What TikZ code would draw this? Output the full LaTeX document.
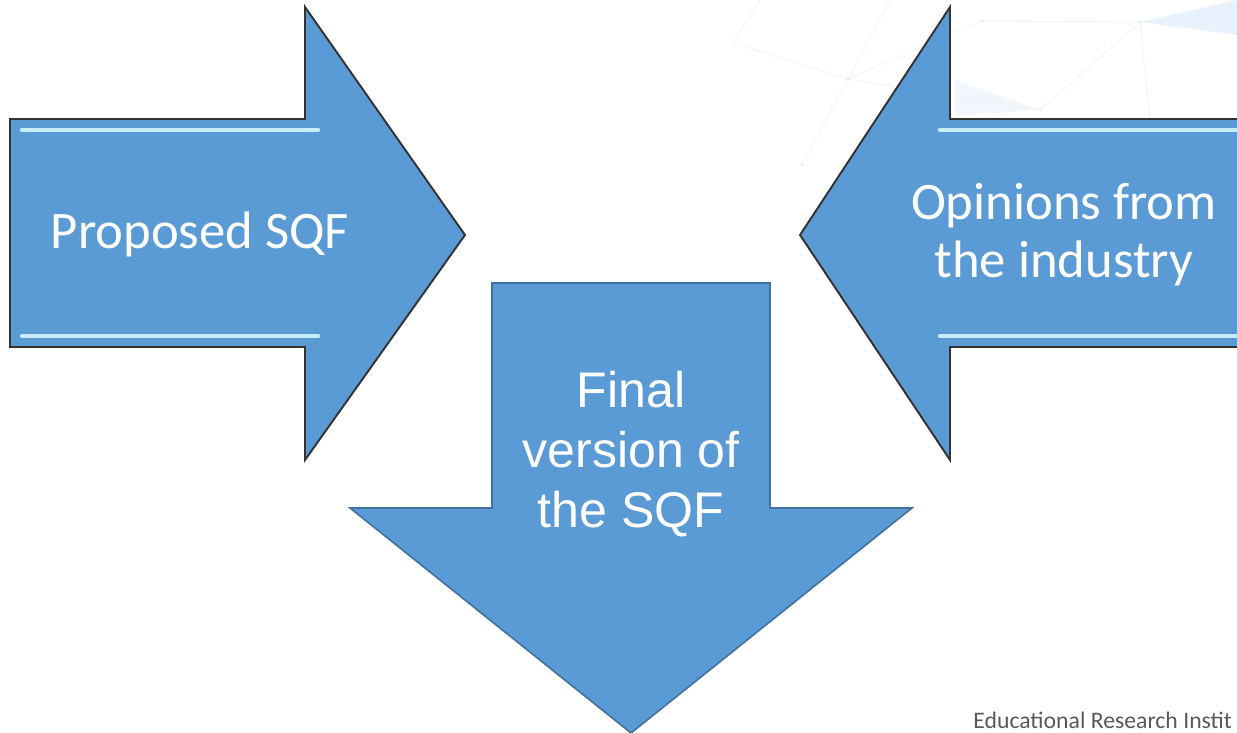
\documentclass[tikz,border=0pt]{standalone}
\usepackage{fontspec}
\setmainfont{Carlito}
\newfontfamily\arialfont{Liberation Sans}
\definecolor{shapeblue}{HTML}{5B9BD5}
\definecolor{shapeline}{HTML}{41719C}
\definecolor{netline}{HTML}{F3F4F6}
\definecolor{netfill}{HTML}{E8F2FC}
\tikzset{
  bevelarrow/.style={fill=shapeblue,draw=black!80,line width=1.1pt,line join=miter},
  flatarrow/.style={fill=shapeblue,draw=shapeline,line width=0.9pt,line join=miter},
  glint/.style={draw=cyan!22!white,line width=2.5pt,line cap=round},
  arrowtext/.style={text=white,align=center,font=\fontsize{30}{33}\selectfont},
}
\begin{document}
\begin{tikzpicture}[x=0.02cm,y=-0.02cm]
\useasboundingbox (0,0) rectangle (1237,733);
% faint network in the corner
\fill[netfill](1140,22)--(1237,0)--(1237,35)--cycle;
\fill[netfill!60!white](955,80)--(1040,110)--(955,116)--cycle;
\draw[netline,line width=0.6pt](733,43)--(760,0);
\draw[netline,line width=0.6pt](733,43)--(848,79)--(982,21)--(1140,22)--(1040,110)--(848,79)--(802,165);
\draw[netline,line width=0.6pt](848,79)--(890,0);
\draw[netline,line width=0.6pt](1140,22)--(1150,120);
\foreach \p in {(982,21),(848,79),(1140,22),(1040,110),(802,165)}
  \fill[gray!18]\p circle (1.6);
% arrow from the left
\draw[bevelarrow](10,119)--(305,119)--(305,7)--(465,235)--(305,460)--(305,347)--(10,347)--cycle;
\draw[glint](22,130)--(318,130);
\draw[glint](22,336)--(318,336);
\node[arrowtext](proposed) at (200,234){Proposed SQF};
% arrow from the right
\draw[bevelarrow](1240,119)--(950,119)--(950,7)--(800,235)--(950,460)--(950,347)--(1240,347)--cycle;
\draw[glint](940,130)--(1237,130);
\draw[glint](940,336)--(1237,336);
\node[arrowtext](opinions) at (1064,235){Opinions from\\the industry};
% arrow pointing down
\draw[flatarrow](492,283)--(770,283)--(770,508)--(912,508)--(631,733)--(350,508)--(492,508)--cycle;
\node[arrowtext,font=\arialfont\fontsize{28.5}{34}\selectfont](final) at (631,454){Final\\version of\\the SQF};
% footer
\node[anchor=base west,inner sep=0,text=black!65,font=\fontsize{13.5}{15}\selectfont](footer) at (973,728){Educational Research Instit};
\end{tikzpicture}
\end{document}
